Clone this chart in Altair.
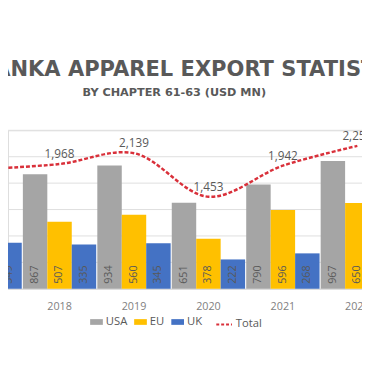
import altair as alt
import pandas as pd

years = ["2017", "2018", "2019", "2020", "2021", "2022"]
series = ["USA", "EU", "UK"]
usa = [None, 867, 934, 651, 790, 967]
eu = [None, 507, 560, 378, 596, 650]
uk = [349, 335, 345, 222, 268, None]
total = [1890, 1968, 2139, 1453, 1942, 2254]
colors = ["#A5A5A5", "#FFC000", "#4472C4"]
line_color = "#D9303A"
y_ticks = [0, 200, 400, 600, 800, 1000, 1200]

rows = []
for s, vals in zip(series, [usa, eu, uk]):
    for yr, v in zip(years, vals):
        if v is not None:
            rows.append({"Year": yr, "Series": s, "Value": v})
bars_df = pd.DataFrame(rows)
tot_df = pd.DataFrame({
    "Year": years,
    "Total": total,
    "Label": [f"{v:,}" for v in total],
    "Name": ["Total"] * len(years),
})
grid_df = pd.DataFrame({"tick": y_ticks[1:]})

FONT = "Open Sans"
TFONT = "DejaVu Sans"
GREY = "#595959"

x_enc = alt.X(
    "Year:N",
    sort=years,
    scale=alt.Scale(domain=years, range=[-61.5, 395.3], paddingInner=0.015, paddingOuter=0.0075),
    axis=alt.Axis(title=None, ticks=False, domain=True, domainColor="#D9D9D9",
                  labelColor="#7F7F7F", labelFontSize=11, labelFont=FONT,
                  labelPadding=12, labelAngle=0, grid=False),
)
xoff = alt.XOffset("Series:N", sort=series, scale=alt.Scale(domain=series))
y_scale = alt.Scale(domain=[0, 1200], nice=False)

grid = alt.Chart(grid_df).mark_rule(color="#DEDEDE", strokeWidth=1).encode(
    y=alt.Y("tick:Q", scale=y_scale, axis=None),
)

bars = alt.Chart(bars_df).mark_bar().encode(
    x=x_enc,
    xOffset=xoff,
    y=alt.Y("Value:Q", scale=y_scale, axis=None),
    color=alt.Color("Series:N", scale=alt.Scale(domain=series, range=colors),
                    legend=alt.Legend(title=None, orient="none", direction="horizontal",
                                      legendX=84, legendY=189.5,
                                      symbolType="M-1,-0.45H1V0.45H-1Z", symbolSize=169,
                                      symbolStrokeWidth=0, labelFont=FONT, labelFontSize=11.5,
                                      labelColor=GREY, labelOffset=3, columnPadding=7)),
)
bar_labels = alt.Chart(bars_df).mark_text(
    angle=270, align="left", baseline="middle", dx=5, fontSize=11, font=FONT, color=GREY
).encode(
    x=x_enc,
    xOffset=xoff,
    y=alt.datum(0, scale=y_scale),
    text="Value:Q",
)

y2_scale = alt.Scale(domain=[0, 2500], nice=False)
line = alt.Chart(tot_df).mark_line(
    strokeDash=[4, 2], strokeWidth=2.5, interpolate="catmull-rom"
).encode(
    x=x_enc,
    y=alt.Y("Total:Q", scale=y2_scale, axis=None),
    stroke=alt.Stroke("Name:N", scale=alt.Scale(domain=["Total"], range=[line_color]),
                      legend=alt.Legend(title=None, orient="none", direction="horizontal",
                                        legendX=212, legendY=189.5,
                                        symbolType="stroke", symbolSize=256,
                                        symbolStrokeWidth=2, symbolDash=[3, 2],
                                        labelFont=FONT, labelFontSize=11.5,
                                        labelColor=GREY, labelOffset=3)),
)
line_labels = alt.Chart(tot_df).mark_text(
    dy=-10, fontSize=12, font=FONT, color=GREY
).encode(
    x=x_enc,
    y=alt.Y("Total:Q", scale=y2_scale, axis=None),
    text="Label:N",
)

chart = alt.layer(
    alt.layer(grid, bars, bar_labels),
    alt.layer(line, line_labels),
).resolve_scale(y="independent").properties(
    width=362,
    height=162,
    title=alt.Title(
        "SRI LANKA APPAREL EXPORT STATISTICS",
        subtitle="BY CHAPTER 61-63 (USD MN)",
        font=TFONT, fontSize=21.5, fontWeight="bold", color=GREY,
        subtitleFont=TFONT, subtitleFontSize=11.5, subtitleFontWeight="bold", subtitleColor=GREY,
        anchor="middle", dx=-11, offset=32, subtitlePadding=7,
    ),
    autosize=alt.AutoSizeParams(type="none"),
    padding={"top": 121, "bottom": 79, "left": 0, "right": 0},
).configure_view(stroke=None).configure(background="white")

chart.save("out.html", embed_options={"renderer": "svg", "actions": False})
